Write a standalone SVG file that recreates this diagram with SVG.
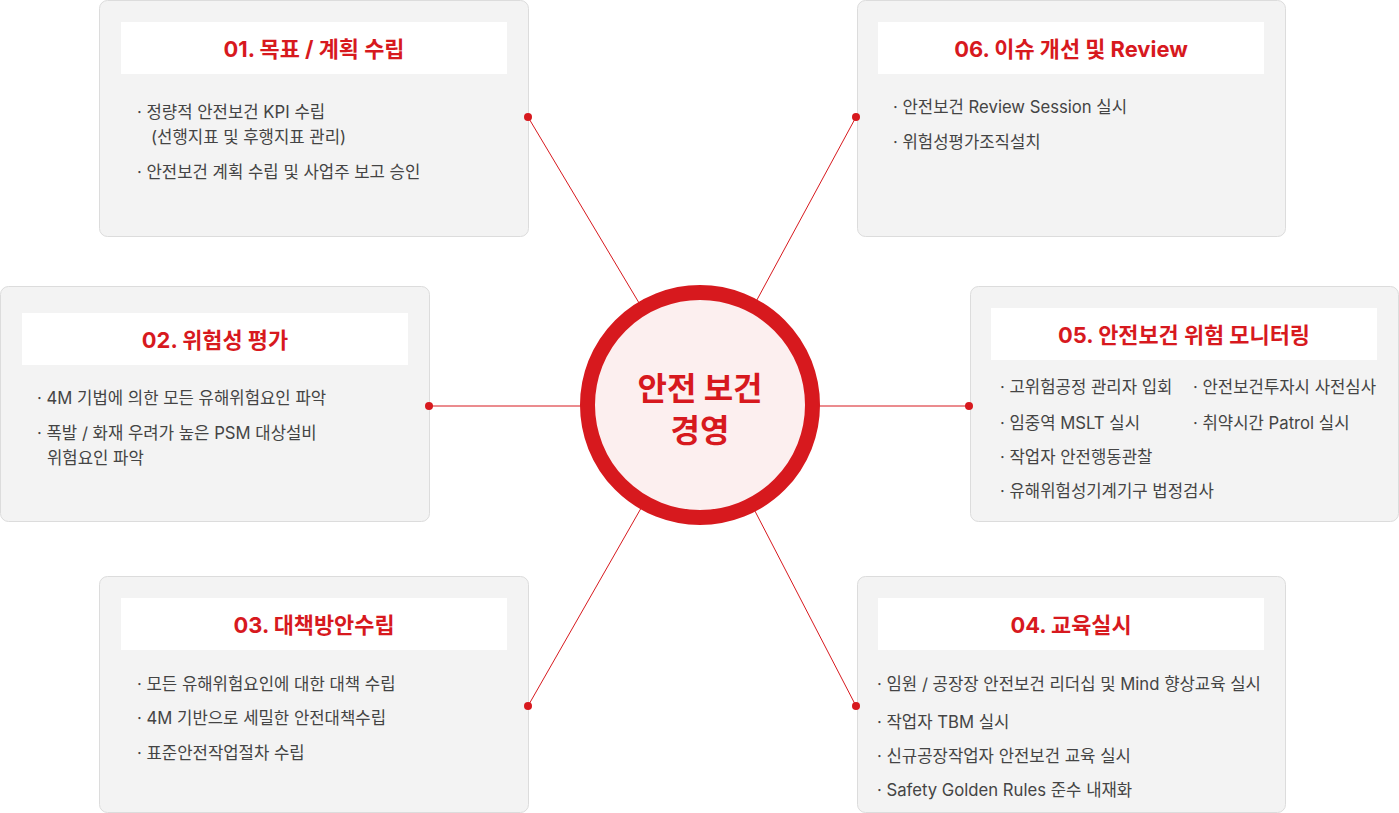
<svg xmlns="http://www.w3.org/2000/svg" width="1399" height="813" viewBox="0 0 1399 813">
<defs>
<style>
.box{fill:#f3f3f3;stroke:#dcdcdc;stroke-width:1}
.hdr{fill:#fff}
.ttl{font-family:Inter,"Noto Sans CJK KR",sans-serif;font-size:21.9px;font-weight:700;fill:#d7191e;text-anchor:middle}
.txt{font-family:Inter,"Noto Sans CJK KR",sans-serif;font-size:16.7px;fill:#444}
.ln{stroke:#d7191e;stroke-width:1;fill:none}
.dot{fill:#d7191e}
.ctr{font-family:"Noto Sans CJK KR","Noto Sans",sans-serif;font-size:32px;font-weight:700;fill:#d7191e;text-anchor:middle}
</style>
</defs>
<rect width="1399" height="813" fill="#fff"/>
<g id="connectors">
<line class="ln" x1="528" y1="117" x2="700" y2="405"/>
<line class="ln" x1="856" y1="117" x2="700" y2="405"/>
<line class="ln" x1="429" y1="406" x2="700" y2="406"/>
<line class="ln" x1="969" y1="406" x2="700" y2="406"/>
<line class="ln" x1="528" y1="706" x2="700" y2="405"/>
<line class="ln" x1="856" y1="706" x2="700" y2="405"/>
</g>
<g id="center">
<circle cx="700" cy="405" r="112.5" fill="#fcefef" stroke="#d7191e" stroke-width="15"/>
<text class="ctr" x="700" y="400">안전 보건</text>
<text class="ctr" x="700" y="442">경영</text>
</g>
<g id="node01">
<rect class="box" x="99.5" y="0.5" width="429" height="236" rx="8"/>
<rect class="hdr" x="121" y="22" width="386" height="52"/>
<text class="ttl" x="314" y="57">01. 목표 / 계획 수립</text>
<text class="txt" x="137" y="118">· 정량적 안전보건 KPI 수립</text>
<text class="txt" x="151" y="143">(선행지표 및 후행지표 관리)</text>
<text class="txt" x="137" y="178">· 안전보건 계획 수립 및 사업주 보고 승인</text>
<circle class="dot" cx="528" cy="117" r="4"/>
</g>
<g id="node06">
<rect class="box" x="857.5" y="0.5" width="428" height="236" rx="8"/>
<rect class="hdr" x="878" y="22" width="386" height="52"/>
<text class="ttl" x="1071" y="57">06. 이슈 개선 및 Review</text>
<text class="txt" x="893" y="113">· 안전보건 Review Session 실시</text>
<text class="txt" x="893" y="148">· 위험성평가조직설치</text>
<circle class="dot" cx="856" cy="117" r="4"/>
</g>
<g id="node02">
<rect class="box" x="0.5" y="286.5" width="429" height="235" rx="8"/>
<rect class="hdr" x="22" y="313" width="386" height="52"/>
<text class="ttl" x="215" y="348">02. 위험성 평가</text>
<text class="txt" x="37" y="404">· 4M 기법에 의한 모든 유해위험요인 파악</text>
<text class="txt" x="37" y="439">· 폭발 / 화재 우려가 높은 PSM 대상설비</text>
<text class="txt" x="47" y="464">위험요인 파악</text>
<circle class="dot" cx="429" cy="406" r="4"/>
</g>
<g id="node05">
<rect class="box" x="970.5" y="286.5" width="428" height="235" rx="8"/>
<rect class="hdr" x="991" y="308" width="386" height="52"/>
<text class="ttl" x="1184" y="343">05. 안전보건 위험 모니터링</text>
<text class="txt" x="1000" y="393">· 고위험공정 관리자 입회</text>
<text class="txt" x="1193" y="393">· 안전보건투자시 사전심사</text>
<text class="txt" x="1000" y="429">· 임중역 MSLT 실시</text>
<text class="txt" x="1193" y="429">· 취약시간 Patrol 실시</text>
<text class="txt" x="1000" y="463">· 작업자 안전행동관찰</text>
<text class="txt" x="1000" y="497">· 유해위험성기계기구 법정검사</text>
<circle class="dot" cx="969" cy="406" r="4"/>
</g>
<g id="node03">
<rect class="box" x="99.5" y="576.5" width="429" height="236" rx="8"/>
<rect class="hdr" x="121" y="598" width="386" height="52"/>
<text class="ttl" x="314" y="633">03. 대책방안수립</text>
<text class="txt" x="137" y="690">· 모든 유해위험요인에 대한 대책 수립</text>
<text class="txt" x="137" y="724">· 4M 기반으로 세밀한 안전대책수립</text>
<text class="txt" x="137" y="759">· 표준안전작업절차 수립</text>
<circle class="dot" cx="528" cy="706" r="4"/>
</g>
<g id="node04">
<rect class="box" x="857.5" y="576.5" width="428" height="236" rx="8"/>
<rect class="hdr" x="878" y="598" width="386" height="52"/>
<text class="ttl" x="1071" y="633">04. 교육실시</text>
<text class="txt" x="877" y="690">· 임원 / 공장장 안전보건 리더십 및 Mind 향상교육 실시</text>
<text class="txt" x="877" y="728">· 작업자 TBM 실시</text>
<text class="txt" x="877" y="762">· 신규공장작업자 안전보건 교육 실시</text>
<text class="txt" x="877" y="796">· Safety Golden Rules 준수 내재화</text>
<circle class="dot" cx="856" cy="706" r="4"/>
</g>
</svg>
